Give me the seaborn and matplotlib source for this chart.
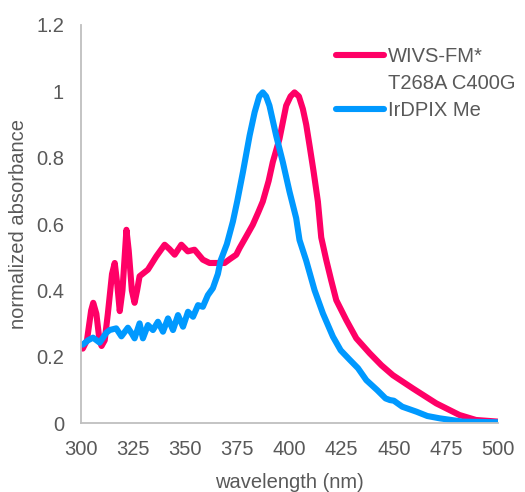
import matplotlib
matplotlib.use("Agg")
import matplotlib.pyplot as plt
from matplotlib.lines import Line2D
import seaborn as sns
import pandas as pd

# ---- data ----
wivs_x = [301, 303, 305, 306, 307.5, 309, 310, 311.5, 313, 315, 316.3, 317.5, 318.7, 320,
          321.9, 323, 324.5, 325.8, 327, 328.2, 332.2, 336.2, 340.2, 342.5, 345, 348.2,
          351.3, 354.5, 358.5, 361.7, 364.9, 368.9, 371.5, 374.5, 376.1, 379, 382.4, 385,
          387.2, 390, 392, 395.2, 398.4, 400.5, 402.4, 404.5, 406.4, 408, 409.6, 411.5,
          413.6, 415.2, 417.6, 420, 422.4, 427.2, 432, 438.4, 444, 449.5, 459.1, 470.3,
          481.4, 489.3, 500]
wivs_y = [0.225, 0.25, 0.34, 0.363, 0.33, 0.25, 0.233, 0.25, 0.33, 0.45, 0.483, 0.42, 0.338,
          0.40, 0.583, 0.52, 0.40, 0.363, 0.40, 0.443, 0.463, 0.503, 0.538, 0.525, 0.508,
          0.538, 0.518, 0.523, 0.493, 0.483, 0.483, 0.483, 0.495, 0.508, 0.528, 0.56, 0.598,
          0.635, 0.668, 0.73, 0.787, 0.857, 0.957, 0.985, 0.997, 0.985, 0.947, 0.90, 0.837,
          0.76, 0.668, 0.56, 0.492, 0.43, 0.371, 0.311, 0.256, 0.211, 0.175, 0.145, 0.105,
          0.060, 0.025, 0.010, 0.005]

irdpix_x = [301, 303.5, 305.9, 309.1, 312.3, 313.9, 317, 319.5, 322.6, 324.5, 325.8, 328.2,
            329.8, 332.2, 334.6, 337, 339.4, 341.8, 344.2, 346.6, 349, 351.4, 353.8, 356.2,
            358.5, 360.9, 363.3, 365.7, 367, 370, 372.9, 375, 377.7, 380.9, 383.3, 385.5,
            387.2, 388.8, 390.4, 393.6, 396.8, 400, 403.2, 404.8, 408, 412, 416, 420.8,
            424.5, 428.9, 432.8, 436.8, 442, 446, 448.1, 450, 454, 460.8, 466, 471.9, 483, 500]
irdpix_y = [0.237, 0.25, 0.258, 0.243, 0.273, 0.281, 0.286, 0.262, 0.288, 0.27, 0.256, 0.301,
            0.256, 0.296, 0.281, 0.306, 0.276, 0.316, 0.281, 0.326, 0.291, 0.336, 0.321,
            0.356, 0.351, 0.386, 0.407, 0.45, 0.49, 0.54, 0.608, 0.67, 0.757, 0.867, 0.937,
            0.985, 0.997, 0.985, 0.957, 0.867, 0.787, 0.698, 0.618, 0.552, 0.49, 0.401,
            0.331, 0.261, 0.22, 0.191, 0.166, 0.130, 0.10, 0.075, 0.070, 0.068, 0.05, 0.035,
            0.022, 0.015, 0.005, 0.003]

series_names = ["WIVS-FM*", "IrDPIX Me"]
legend_labels = ["WIVS-FM*", "T268A C400G", "IrDPIX Me"]
x_ticks = [300, 325, 350, 375, 400, 425, 450, 475, 500]
y_ticks = [0, 0.2, 0.4, 0.6, 0.8, 1.0, 1.2]
y_tick_labels = ["0", "0.2", "0.4", "0.6", "0.8", "1", "1.2"]
x_label = "wavelength (nm)"
y_label = "normalized absorbance"

colors = {"WIVS-FM*": "#FF0066", "IrDPIX Me": "#0099FF"}

df = pd.concat([
    pd.DataFrame({"wl": wivs_x, "abs": wivs_y, "s": series_names[0]}),
    pd.DataFrame({"wl": irdpix_x, "abs": irdpix_y, "s": series_names[1]}),
], ignore_index=True)

sns.set_style("white")
plt.rcParams["font.family"] = ["Liberation Sans", "DejaVu Sans"]
text_color = "#595959"
spine_color = "#BFBFBF"
fs = 14.5

fig = plt.figure(figsize=(5.25, 4.92), dpi=100)
ax = fig.add_axes([80.7 / 525, 1 - 423.3 / 492, (498.3 - 80.7) / 525, (423.3 - 25) / 492])

sns.lineplot(data=df, x="wl", y="abs", hue="s", palette=colors, sort=False,
             estimator=None, linewidth=4.4, ax=ax, legend=False)

ax.set_xlim(300, 500)
ax.set_ylim(0, 1.2)
ax.set_xticks(x_ticks)
ax.set_xticklabels([str(t) for t in x_ticks])
ax.set_yticks(y_ticks)
ax.set_yticklabels(y_tick_labels)
ax.tick_params(axis="both", direction="out", length=5, width=1.2, color=spine_color,
               labelcolor=text_color, labelsize=fs)
ax.tick_params(axis="x", pad=7)
ax.tick_params(axis="y", pad=7)
for side in ["top", "right"]:
    ax.spines[side].set_visible(False)
for side in ["left", "bottom"]:
    ax.spines[side].set_color(spine_color)
    ax.spines[side].set_linewidth(1.3)
ax.set_xlabel(x_label, fontsize=fs, color=text_color, labelpad=10)
ax.set_ylabel(y_label, fontsize=fs, color=text_color, labelpad=6)

handles = [Line2D([], [], color=colors[series_names[0]], lw=4.4, solid_capstyle="round"),
           Line2D([], [], color="none", lw=0),
           Line2D([], [], color=colors[series_names[1]], lw=4.4, solid_capstyle="round")]
leg = fig.legend(handles, legend_labels, loc="upper left", bbox_to_anchor=(336 / 525, 1 - 47 / 492),
                 frameon=False, fontsize=fs, handlelength=2.4, handletextpad=0.2,
                 labelspacing=0.4, borderpad=0, borderaxespad=0)
for t in leg.get_texts():
    t.set_color(text_color)

fig.savefig("out.png", dpi=100)
